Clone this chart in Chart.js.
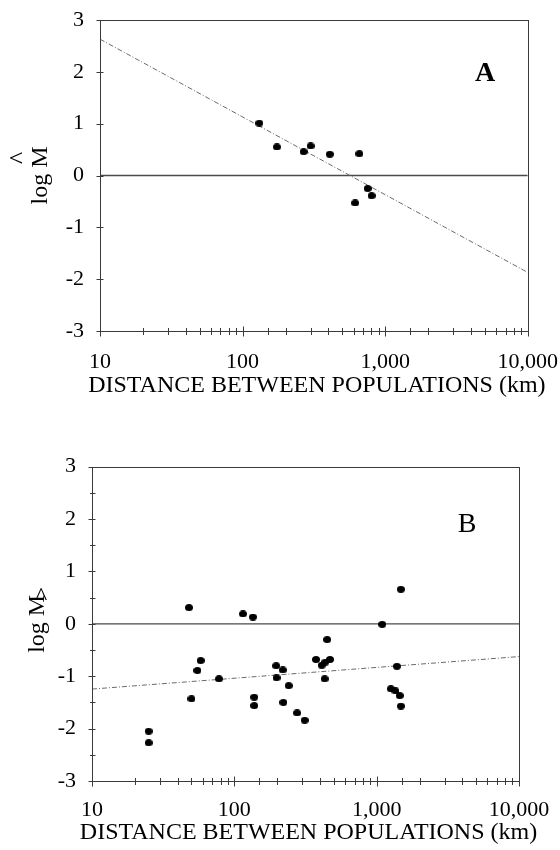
<!DOCTYPE html>
<html>
<head>
<meta charset="utf-8">
<script src="https://cdn.jsdelivr.net/npm/chart.js@4/dist/chart.umd.min.js"></script>
<style>
  html, body { margin: 0; padding: 0; background: #fff; }
  body { width: 560px; height: 850px; position: relative; overflow: hidden; }
  .panel { position: absolute; left: 0; }
  #wrapA { top: 0; }
  #wrapB { top: 420px; }
</style>
</head>
<body>
<div class="panel" id="wrapA"><canvas id="chartA" width="560" height="410"></canvas></div>
<div class="panel" id="wrapB"><canvas id="chartB" width="560" height="430"></canvas></div>
<script>
// ---- Data ----
const xTickLabels = [10, 100, 1000, 10000];
const yTicks = [-3, -2, -1, 0, 1, 2, 3];

const distA = [131, 174, 268, 300, 409, 659, 616, 754, 803];
const logMA = [1.01, 0.55, 0.46, 0.57, 0.41, 0.42, -0.53, -0.25, -0.39];
const fitXA = [10, 10000];
const fitYA = [2.63, -1.87];

const distB = [25, 25, 48, 50, 55, 58, 78, 115, 135, 138, 138, 197, 198, 219, 221, 241,
               276, 312, 375, 411, 431, 436, 449, 470, 1094, 1258, 1388, 1356, 1452, 1478, 1478];
const logMB = [-2.05, -2.27, 0.31, -1.43, -0.89, -0.70, -1.05, 0.19, 0.13, -1.40, -1.56, -0.80, -1.03, -0.88, -1.50, -1.18,
               -1.70, -1.84, -0.68, -0.79, -1.05, -0.73, -0.30, -0.68, -0.01, -1.24, -0.81, -1.28, -1.37, 0.66, -1.57];
const fitXB = [10, 10000];
const fitYB = [-1.245, -0.625];

const zeroX = [10, 10000];
const zeroY = [0, 0];

const titleX = 'DISTANCE BETWEEN POPULATIONS (km)';
const titleY = 'log M';

// ---- helpers ----
const SERIF = '"Liberation Serif", "DejaVu Serif", serif';
function ellipseDot(w, h) {
  const c = document.createElement('canvas');
  c.width = w; c.height = h;
  const g = c.getContext('2d');
  g.fillStyle = '#000';
  g.beginPath();
  g.ellipse(w / 2, h / 2, w / 2, h / 2, 0, 0, Math.PI * 2);
  g.fill();
  return c;
}
const dot = ellipseDot(8, 7);
const pts = (xs, ys) => xs.map((x, i) => ({ x: x, y: ys[i] }));

function makeFramePlugin(cfg) {
  return {
    id: 'frame' + cfg.name,
    afterDraw(chart) {
      const { ctx, chartArea: a, scales } = chart;
      ctx.save();
      ctx.strokeStyle = '#3a3a3a';
      ctx.lineWidth = 1;
      // box
      ctx.strokeRect(Math.round(a.left) + 0.5, Math.round(a.top) + 0.5,
                     Math.round(a.right - a.left), Math.round(a.bottom - a.top));
      // x ticks (log scale ticks from the library)
      const xs = scales.x;
      const yb = Math.round(a.bottom) + 0.5;
      ctx.beginPath();
      xs.ticks.forEach(t => {
        const px = Math.round(xs.getPixelForValue(t.value)) + 0.5;
        const lg = Math.log10(t.value);
        const major = Math.abs(lg - Math.round(lg)) < 1e-9;
        const len = major ? 5 : 3.5;
        ctx.moveTo(px, yb - len); ctx.lineTo(px, yb + len);
      });
      ctx.stroke();
      // y ticks
      const ys = scales.y;
      const xl = Math.round(a.left) + 0.5;
      ctx.beginPath();
      ys.ticks.forEach(t => {
        const py = Math.round(ys.getPixelForValue(t.value)) + 0.5;
        const major = Math.abs(t.value - Math.round(t.value)) < 1e-9;
        if (major) { ctx.moveTo(xl - 4, py); ctx.lineTo(xl + 3, py); }
        else if (cfg.minorY) { ctx.moveTo(xl - 2.5, py); ctx.lineTo(xl + 3, py); }
      });
      ctx.stroke();
      ctx.fillStyle = '#000';
      // x-axis title (drawn without width squeezing)
      ctx.font = '24px ' + SERIF;
      ctx.textAlign = 'center';
      ctx.textBaseline = 'middle';
      ctx.fillText(titleX, (a.left + a.right) / 2 + 3, cfg.xTitleY);
      // panel letter
      ctx.font = cfg.letterFont;
      ctx.textAlign = 'center';
      ctx.textBaseline = 'alphabetic';
      ctx.fillText(cfg.letter, cfg.letterX, cfg.letterY);
      // hat over M, ink-centred at (hatX, hatY)
      ctx.font = '26px ' + SERIF;
      ctx.textAlign = 'left';
      ctx.textBaseline = 'alphabetic';
      const m = ctx.measureText('^');
      const cx = (m.actualBoundingBoxRight - m.actualBoundingBoxLeft) / 2;
      const cy = (m.actualBoundingBoxDescent - m.actualBoundingBoxAscent) / 2;
      ctx.translate(cfg.hatX, cfg.hatY);
      ctx.rotate(cfg.hatRot);
      ctx.fillText('^', -cx, -cy);
      ctx.restore();
    }
  };
}

function makeChart(id, cfg) {
  return new Chart(document.getElementById(id), {
    type: 'scatter',
    data: {
      datasets: [
        { data: pts(cfg.dist, cfg.logM), pointStyle: dot, pointRadius: 4, showLine: false, order: 0 },
        { data: pts(cfg.fitX, cfg.fitY), showLine: true, pointRadius: 0, borderColor: '#6a6a6a',
          borderWidth: 1, borderDash: [5, 2, 1, 2], order: 1 },
        { data: pts(zeroX, zeroY), showLine: true, pointRadius: 0, borderColor: '#4a4a4a',
          borderWidth: 1.3, order: 2 }
      ]
    },
    options: {
      responsive: false,
      animation: false,
      devicePixelRatio: 1,
      layout: { padding: cfg.padding },
      plugins: { legend: { display: false }, tooltip: { enabled: false } },
      scales: {
        x: {
          type: 'logarithmic',
          min: 10, max: 10000,
          grid: { display: false, drawTicks: true, tickLength: cfg.xTickPad - 2 },
          border: { display: false },
          ticks: {
            autoSkip: false, maxRotation: 0, minRotation: 0,
            padding: 2,
            color: '#000',
            font: { family: SERIF, size: 22 },
            callback: (v) => xTickLabels.includes(v) ? v.toLocaleString('en-US') : ''
          },
          title: { display: false },
          afterFit: (s) => { s.height = cfg.xHeight; }
        },
        y: {
          type: 'linear',
          min: -3, max: 3,
          afterBuildTicks: (s) => {
            const arr = [];
            yTicks.forEach((v, i) => {
              arr.push({ value: v });
              if (i < yTicks.length - 1) arr.push({ value: v + 0.5 });
            });
            s.ticks = arr;
          },
          grid: { display: false, drawTicks: true, tickLength: 14 },
          border: { display: false },
          ticks: {
            autoSkip: false,
            padding: 2,
            color: '#000',
            font: { family: SERIF, size: 22 },
            callback: (v) => Number.isInteger(v) ? String(v) : ''
          },
          title: {
            display: true, text: titleY, color: '#000',
            font: { family: SERIF, size: 24 },
            padding: { top: cfg.yTitlePad, bottom: 0 }
          },
          afterFit: (s) => { s.width = cfg.yWidth; }
        }
      }
    },
    plugins: [makeFramePlugin(cfg)]
  });
}

makeChart('chartA', {
  name: 'A', dist: distA, logM: logMA, fitX: fitXA, fitY: fitYA,
  padding: { left: 0, top: 20, right: 32, bottom: 0 },
  xHeight: 79, yWidth: 100, xTickPad: 18, xTitleY: 386, yTitlePad: 26,
  minorY: false,
  letter: 'A', letterFont: 'bold 28px ' + SERIF, letterX: 485, letterY: 81,
  hatX: 16, hatY: 158, hatRot: -Math.PI / 2
});

makeChart('chartB', {
  name: 'B', dist: distB, logM: logMB, fitX: fitXB, fitY: fitYB,
  padding: { left: 0, top: 46.7, right: 41, bottom: 0 },
  xHeight: 69, yWidth: 92, xTickPad: 16, xTitleY: 833 - 420, yTitlePad: 23.6,
  minorY: true,
  letter: 'B', letterFont: '28px ' + SERIF, letterX: 467, letterY: 532 - 420,
  hatX: 41, hatY: 594 - 420, hatRot: 0
});
</script>
</body>
</html>
